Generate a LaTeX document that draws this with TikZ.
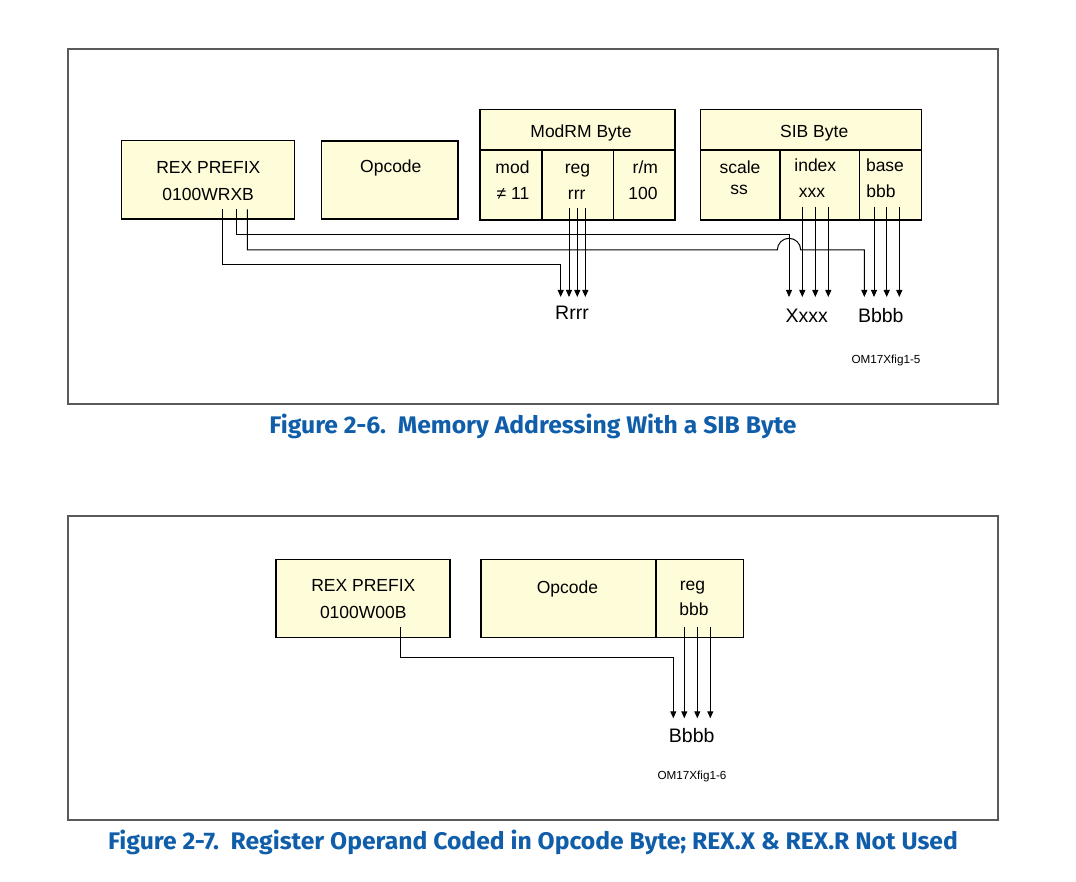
\documentclass[tikz,border=0pt]{standalone}
\usepackage{fontspec}
\setmainfont{Liberation Sans}
\newfontfamily\capfont[FakeStretch=1.03]{Fira Sans}
\usetikzlibrary{arrows.meta}
\definecolor{cream}{RGB}{255,252,218}
\definecolor{capblue}{RGB}{16,94,170}
\definecolor{framegray}{RGB}{90,90,90}
\begin{document}
\begin{tikzpicture}[x=1pt,y=-1pt,>={Triangle[length=7pt,width=6pt]},
box/.style={draw=black,line width=1.4pt,fill=cream,inner sep=0pt},
outline/.style={draw=framegray,line width=1.6pt,inner sep=0pt},
txt/.style={anchor=base,inner sep=0pt,font=\fontsize{17.5}{21}\selectfont},
lbl/.style={anchor=base,inner sep=0pt,font=\fontsize{19.5}{23}\selectfont},
tag/.style={anchor=base,inner sep=0pt,font=\fontsize{11.7}{14}\selectfont},
captxt/.style={anchor=base,inner sep=0pt,text=capblue,font=\capfont\bfseries\fontsize{24}{28}\selectfont},
wire/.style={line width=1pt}]

\useasboundingbox (0,0) rectangle (1076,882);

% figure 2-6
\node[outline,minimum width=930,minimum height=355] (F1) at (533,226.5) {};
\node[captxt] (C1) at (533,433.3) {Figure 2-6.\ \ Memory Addressing With a SIB Byte};

\node[box,minimum width=173,minimum height=78.3] (RX) at (207.8,179.9) {};
\node[box,minimum width=136.3,minimum height=78] (OP) at (389.8,180) {};
\node[box,minimum width=195,minimum height=40.7] (MR) at (577.5,129.65) {};
\node[box,minimum width=62,minimum height=70] (MD) at (511,185) {};
\node[box,minimum width=71.3,minimum height=70] (RG) at (577.65,185) {};
\node[box,minimum width=61.7,minimum height=70] (RM) at (644.15,185) {};
\node[box,minimum width=221,minimum height=40.7] (SB) at (811.2,129.65) {};
\node[box,minimum width=79.3,minimum height=70] (SC) at (740.35,185) {};
\node[box,minimum width=79.3,minimum height=70] (IX) at (819.65,185) {};
\node[box,minimum width=62.4,minimum height=70] (BS) at (890.5,185) {};

\node[txt] (rex) at (208.3,173.3) {REX PREFIX};
\node[txt] (wrxb) at (208.2,201) {0100WRXB};
\node[txt] (opc) at (390.8,172.3) {Opcode};
\node[txt] (modrm) at (581,137.3) {ModRM Byte};
\node[txt] (mod) at (512.5,174) {mod};
\node[txt] (ne) at (513,200) {≠ 11};
\node[txt] (reg) at (577.5,174) {reg};
\node[txt] (rrr) at (576.7,200) {rrr};
\node[txt] (rm) at (645.3,173.3) {r/m};
\node[txt] (hun) at (643,199.3) {100};
\node[txt] (sib) at (814.2,137.3) {SIB Byte};
\node[txt] (scale) at (740,174) {scale};
\node[txt] (ss) at (739,195) {ss};
\node[txt] (index) at (815.3,172) {index};
\node[txt] (xxx) at (812,197.7) {xxx};
\node[txt] (base) at (885,172) {base};
\node[txt] (bbb) at (881,197.7) {bbb};

\coordinate (rR) at (222.7,209.3);
\coordinate (rX) at (236.3,209.3);
\coordinate (rB) at (247.3,209.3);
\coordinate (eR) at (560.7,297);
\coordinate (eX) at (789,297);
\coordinate (eB) at (864.3,297);
\coordinate (jmp) at (777.3,250);
\draw[wire,->] (rR) -- ++(0,55.7) -| (eR);
\draw[wire,->] (rX) -- ++(0,25.7) -| (eX);
\draw[wire,->] (rB) -- ++(0,40.7) -- (jmp) arc[start angle=180,end angle=0,radius=11.7pt] -| (eB);

\foreach \n/\x in {1/569,2/577.3,3/585.3} {
  \coordinate (g\n) at (\x,208.3);
  \coordinate (G\n) at (\x,297);
  \draw[wire,->] (g\n) -- (G\n);
}
\foreach \n/\x in {1/802.3,2/815.3,3/828.3} {
  \coordinate (x\n) at (\x,206.7);
  \coordinate (X\n) at (\x,297);
  \draw[wire,->] (x\n) -- (X\n);
}
\foreach \n/\x in {1/874,2/886.7,3/899.3} {
  \coordinate (b\n) at (\x,206.7);
  \coordinate (B\n) at (\x,297);
  \draw[wire,->] (b\n) -- (B\n);
}

\node[lbl] (Rrrr) at (572,320) {Rrrr};
\node[lbl] (Xxxx) at (806.7,322.7) {Xxxx};
\node[lbl] (Bbbb) at (880.8,322.7) {Bbbb};
\node[tag] (id1) at (886,363.3) {OM17Xfig1-5};

% figure 2-7
\node[outline,minimum width=930,minimum height=304] (F2) at (533,668) {};
\node[captxt] (C2) at (533,849.3) {Figure 2-7.\ \ Register Operand Coded in Opcode Byte; REX.X \& REX.R Not Used};

\node[box,minimum width=174,minimum height=78] (RX2) at (363,598.3) {};
\node[box,minimum width=175,minimum height=78] (OP2) at (568.5,598.3) {};
\node[box,minimum width=87.3,minimum height=78] (RG2) at (699.65,598.3) {};

\node[txt] (rex2) at (363.3,591.7) {REX PREFIX};
\node[txt] (woob) at (363.3,618.3) {0100W00B};
\node[txt] (opc2) at (567.5,593.3) {Opcode};
\node[txt] (reg2) at (692.5,590.7) {reg};
\node[txt] (bbb2) at (694,615.7) {bbb};

\coordinate (rB2) at (400.7,627.3);
\coordinate (eB2) at (673.3,718.3);
\draw[wire,->] (rB2) -- ++(0,30) -| (eB2);
\foreach \n/\x in {1/684.3,2/697.3,3/710.3} {
  \coordinate (h\n) at (\x,627.3);
  \coordinate (H\n) at (\x,718.3);
  \draw[wire,->] (h\n) -- (H\n);
}

\node[lbl] (Bbbb2) at (691.7,742.3) {Bbbb};
\node[tag] (id2) at (692,779) {OM17Xfig1-6};

\end{tikzpicture}
\end{document}
